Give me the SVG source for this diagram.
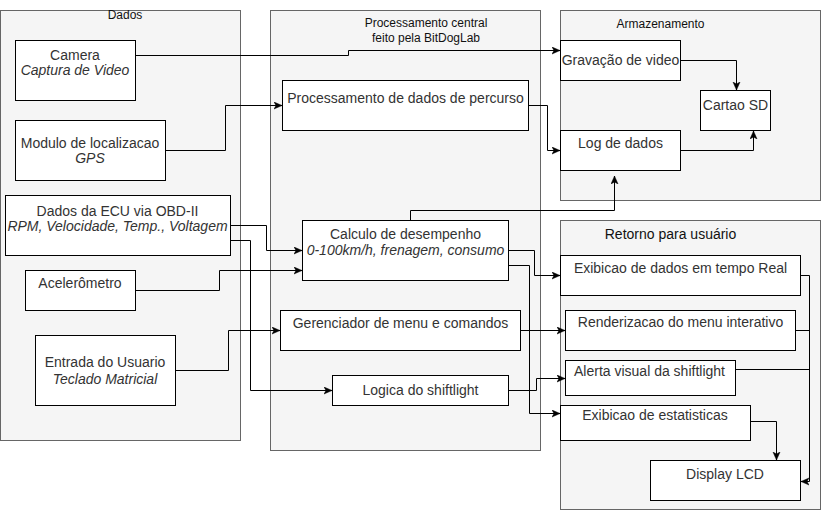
<svg xmlns="http://www.w3.org/2000/svg" width="821" height="511" viewBox="0 0 821 511">
<style>
.cont{fill:#f5f5f5;stroke:#666666;stroke-width:1}
.node{fill:#ffffff;stroke:#000000;stroke-width:1}
.lbl{font-family:"Liberation Sans",Arial,sans-serif;font-size:12px;fill:#111111;text-anchor:middle}
.t{font-family:"Liberation Sans",Arial,sans-serif;font-size:14px;fill:#333333;text-anchor:middle}
.i{font-style:italic}
.edge{fill:none;stroke:#000000;stroke-width:1}
</style>
<defs>
<marker id="arr" markerUnits="userSpaceOnUse" markerWidth="10" markerHeight="10" refX="8" refY="4" orient="auto">
<path d="M0,0.5 L8,4 L0,7.5 L2,4 Z" fill="#000000" stroke="#000000" stroke-width="0.5"/>
</marker>
</defs>
<g id="containers">
<g id="grp-dados"><rect class="cont" x="0.5" y="10.5" width="240" height="430"/><text class="lbl" x="125" y="19">Dados</text></g>
<g id="grp-proc"><rect class="cont" x="270.5" y="10.5" width="270" height="440"/><text class="lbl" x="426" y="27">Processamento central</text><text class="lbl" x="426" y="42">feito pela BitDogLab</text></g>
<g id="grp-arm"><rect class="cont" x="560.5" y="10.5" width="260" height="190"/><text class="lbl" x="660.5" y="28">Armazenamento</text></g>
<g id="grp-ret"><rect class="cont" x="560.5" y="220.5" width="260" height="289"/><text class="t" x="670.5" y="239" style="fill:#111111">Retorno para usuário</text></g>
</g>
<g id="nodes">
<g id="camera"><rect class="node" x="15.5" y="40.5" width="120" height="60"/><text class="t" x="75" y="60">Camera</text><text class="t i" x="75" y="75">Captura de Video</text></g>
<g id="gps"><rect class="node" x="15.5" y="120.5" width="150" height="60"/><text class="t" x="90" y="148">Modulo de localizacao</text><text class="t i" x="90" y="163">GPS</text></g>
<g id="ecu"><rect class="node" x="5.5" y="195.5" width="225" height="60"/><text class="t" x="117.5" y="216">Dados da ECU via OBD-II</text><text class="t i" x="117.5" y="231">RPM, Velocidade, Temp., Voltagem</text></g>
<g id="acel"><rect class="node" x="25.5" y="270.5" width="110" height="40"/><text class="t" x="80" y="288">Acelerômetro</text></g>
<g id="entrada"><rect class="node" x="35.5" y="335.5" width="140" height="70"/><text class="t" x="105" y="367">Entrada do Usuario</text><text class="t i" x="105" y="384">Teclado Matricial</text></g>
<g id="procdados"><rect class="node" x="282.5" y="80.5" width="246" height="50"/><text class="t" x="405.5" y="103">Processamento de dados de percurso</text></g>
<g id="calculo"><rect class="node" x="302.5" y="220.5" width="206" height="60"/><text class="t" x="405.5" y="239">Calculo de desempenho</text><text class="t i" x="405.5" y="255">0-100km/h, frenagem, consumo</text></g>
<g id="gerenciador"><rect class="node" x="280.5" y="310.5" width="240" height="40"/><text class="t" x="400.5" y="328">Gerenciador de menu e comandos</text></g>
<g id="logica"><rect class="node" x="332.5" y="375.5" width="176" height="30"/><text class="t" x="420.5" y="395">Logica do shiftlight</text></g>
<g id="gravacao"><rect class="node" x="560.5" y="40.5" width="120" height="40"/><text class="t" x="620.5" y="65">Gravação de video</text></g>
<g id="cartao"><rect class="node" x="700.5" y="90.5" width="70" height="40"/><text class="t" x="735.5" y="110">Cartao SD</text></g>
<g id="log"><rect class="node" x="560.5" y="130.5" width="120" height="40"/><text class="t" x="620.5" y="148">Log de dados</text></g>
<g id="exibreal"><rect class="node" x="560.5" y="255.5" width="240" height="40"/><text class="t" x="680.5" y="273">Exibicao de dados em tempo Real</text></g>
<g id="render"><rect class="node" x="565.5" y="310.5" width="230" height="40"/><text class="t" x="680.5" y="327">Renderizacao do menu interativo</text></g>
<g id="alerta"><rect class="node" x="565.5" y="360.5" width="170" height="35"/><text class="t" x="649.5" y="376">Alerta visual da shiftlight</text></g>
<g id="estat"><rect class="node" x="560.5" y="405.5" width="190" height="35"/><text class="t" x="655" y="420">Exibicao de estatisticas</text></g>
<g id="display"><rect class="node" x="650.5" y="460.5" width="150" height="40"/><text class="t" x="725" y="479">Display LCD</text></g>
</g>
<g id="connectors">
<path class="edge" d="M135.5,55.5 H348.5 V50.5 H560" marker-end="url(#arr)"/>
<path class="edge" d="M165.5,150.5 H225.5 V105.5 H282" marker-end="url(#arr)"/>
<path class="edge" d="M528.5,105.5 H547.5 V150.5 H560" marker-end="url(#arr)"/>
<path class="edge" d="M680.5,60.5 H736.5 V90" marker-end="url(#arr)"/>
<path class="edge" d="M680.5,150.5 H753.5 V131" marker-end="url(#arr)"/>
<path class="edge" d="M410.5,220 V210.5 H614.5 V176" marker-end="url(#arr)"/>
<path class="edge" d="M230.5,225.5 H266.5 V250.5 H302" marker-end="url(#arr)"/>
<path class="edge" d="M230.5,240.5 H250.5 V390.5 H332" marker-end="url(#arr)"/>
<path class="edge" d="M135.5,290.5 H219.5 V270.5 H302" marker-end="url(#arr)"/>
<path class="edge" d="M175.5,370.5 H228.5 V330.5 H280" marker-end="url(#arr)"/>
<path class="edge" d="M508.5,250.5 H534.5 V275.5 H560" marker-end="url(#arr)"/>
<path class="edge" d="M508.5,265.5 H529.5 V413.5 H560" marker-end="url(#arr)"/>
<path class="edge" d="M520.5,330.5 H565" marker-end="url(#arr)"/>
<path class="edge" d="M508.5,390.5 H536.5 V378.5 H565" marker-end="url(#arr)"/>
<path class="edge" d="M750.5,421.5 H776.5 V460" marker-end="url(#arr)"/>
<path class="edge" d="M800.5,275.5 H809.5 V481.5 H801" marker-end="url(#arr)"/>
<path class="edge" d="M795.5,330.5 H809.5"/>
<path class="edge" d="M735.5,369.5 H809.5"/>
</g>
</svg>
